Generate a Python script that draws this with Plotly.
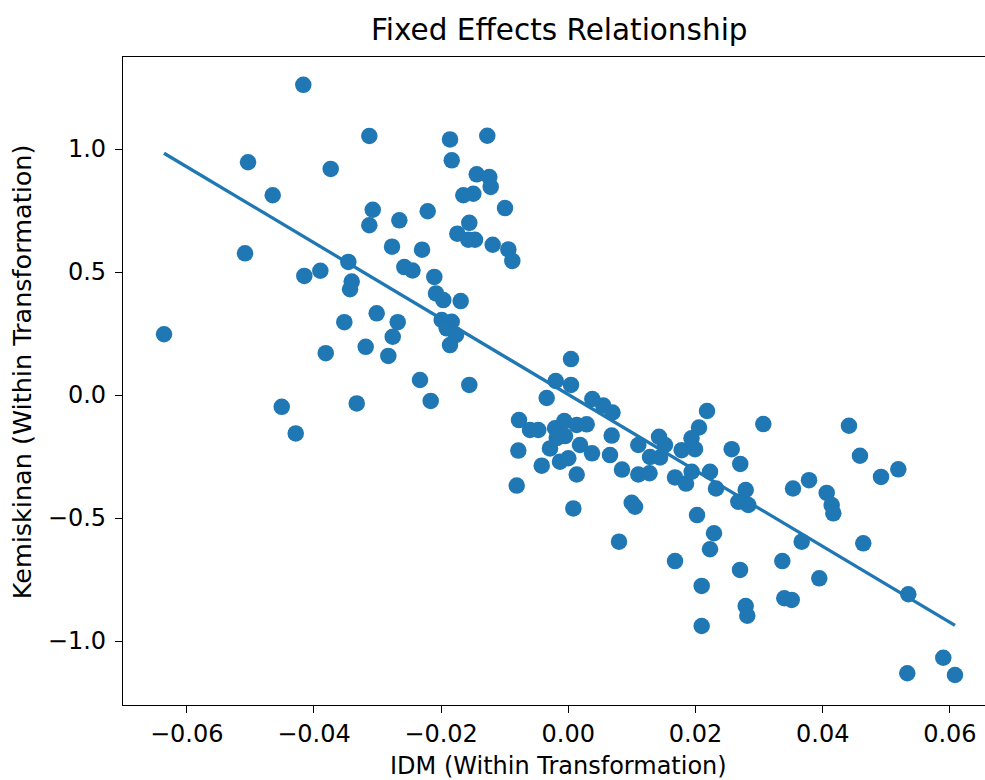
import numpy as np
import plotly.graph_objects as go

# IDM (within transformation) values
idm = [
    -0.04167, -0.03129, -0.05036, -0.03736, -0.04648, -0.03075, -0.03129, -0.02657,
    -0.02772, -0.05083, -0.03459, -0.04151, -0.03899, -0.03406, -0.03432, -0.02579,
    -0.02450, -0.02300, -0.01860, -0.01274, -0.01833, -0.01440, -0.01242, -0.01220,
    -0.01651, -0.01494, -0.02211, -0.00995, -0.01557, -0.01745, -0.01572, -0.01467,
    -0.01189, -0.00943, -0.00880, -0.02107, -0.06357, -0.03013, -0.03522, -0.02682,
    -0.02761, -0.03186, -0.02830, -0.03814, -0.02332, -0.04506, -0.03327, -0.04286,
    -0.02080, -0.01965, -0.01692, -0.01991, -0.01833, -0.01912, -0.01766, -0.01860,
    -0.01557, -0.02164,
    0.00042, -0.00198, 0.00042, -0.00340, 0.00377, 0.00550, 0.00695, -0.00775,
    -0.00602, -0.00472, -0.00209, -0.00063, 0.00132, 0.00289, -0.00182, -0.00052,
    0.00184, 0.00373, -0.00288, -0.00131, 0.00000, -0.00418, 0.00132, -0.00786,
    0.00682, 0.00656, 0.00844, 0.01101, 0.01426, 0.01520, 0.01285, 0.01442,
    0.01101, 0.01277, 0.01678, 0.01851, 0.01783, 0.01937, 0.02055, 0.02181,
    0.01992, 0.01940, 0.02228, 0.02322, -0.00811,
    0.02569, 0.02704, 0.03066, 0.04413, 0.04586, 0.04917, 0.05189, 0.02789,
    0.03533, 0.03785, 0.04063, 0.02673, 0.02830, 0.04141, 0.04167, 0.02024,
    0.02291, 0.02228, 0.03670, 0.04638, 0.03365, 0.02700, 0.03946, 0.02097,
    0.03396, 0.03513, 0.02789, 0.02814, 0.02097, 0.05346, 0.05896, 0.05330,
    0.06080, 0.00079, 0.00997, 0.01049, 0.00797, 0.01678,
]

# Kemiskinan (within transformation) values
kemiskinan = [
    1.261, 1.053, 0.946, 0.919, 0.812, 0.753, 0.690, 0.710,
    0.603, 0.576, 0.541, 0.484, 0.505, 0.461, 0.430, 0.520,
    0.506, 0.591, 1.039, 1.054, 0.954, 0.897, 0.886, 0.846,
    0.812, 0.818, 0.747, 0.760, 0.700, 0.656, 0.631, 0.631,
    0.611, 0.592, 0.545, 0.480, 0.247, 0.332, 0.296, 0.296,
    0.237, 0.196, 0.159, 0.170, 0.061, -0.048, -0.034, -0.156,
    0.413, 0.386, 0.382, 0.305, 0.298, 0.271, 0.244, 0.203,
    0.041, -0.024,
    0.146, 0.057, 0.041, -0.012, -0.016, -0.043, -0.071, -0.102,
    -0.142, -0.142, -0.135, -0.106, -0.122, -0.119, -0.175, -0.167,
    -0.203, -0.237, -0.217, -0.271, -0.257, -0.287, -0.323, -0.226,
    -0.165, -0.244, -0.303, -0.203, -0.170, -0.203, -0.252, -0.254,
    -0.323, -0.318, -0.335, -0.360, -0.224, -0.176, -0.132, -0.065,
    -0.220, -0.312, -0.312, -0.380, -0.368,
    -0.220, -0.280, -0.118, -0.125, -0.247, -0.333, -0.302, -0.386,
    -0.380, -0.346, -0.398, -0.434, -0.447, -0.447, -0.481, -0.488,
    -0.562, -0.627, -0.596, -0.603, -0.675, -0.711, -0.745, -0.776,
    -0.826, -0.833, -0.858, -0.897, -0.939, -0.810, -1.068, -1.131,
    -1.138, -0.461, -0.438, -0.454, -0.596, -0.675,
]

x_tick_values = [-0.06, -0.04, -0.02, 0.0, 0.02, 0.04, 0.06]
x_tick_labels = ["\u22120.06", "\u22120.04", "\u22120.02", "0.00", "0.02", "0.04", "0.06"]
y_tick_values = [-1.0, -0.5, 0.0, 0.5, 1.0]
y_tick_labels = ["\u22121.0", "\u22120.5", "0.0", "0.5", "1.0"]

title_text = "Fixed Effects Relationship"
x_label = "IDM (Within Transformation)"
y_label = "Kemiskinan (Within Transformation)"

# OLS fit line over the data range
slope, intercept = np.polyfit(idm, kemiskinan, 1)
line_x = np.array([min(idm), max(idm)])
line_y = intercept + slope * line_x

blue = "#1f77b4"
font_family = "DejaVu Sans"

fig = go.Figure()
fig.add_trace(go.Scatter(
    x=idm, y=kemiskinan, mode="markers",
    marker=dict(size=16.5, color=blue, line=dict(width=0)),
    hoverinfo="skip",
))
fig.add_trace(go.Scatter(
    x=line_x, y=line_y, mode="lines",
    line=dict(color=blue, width=3.3),
    hoverinfo="skip",
))

axis_common = dict(
    showgrid=False, zeroline=False, showline=True, linecolor="black", linewidth=1.3,
    ticks="outside", ticklen=7, tickwidth=1.3, tickcolor="black",
    tickfont=dict(family=font_family, size=24, color="black"),
)

fig.update_layout(
    width=985, height=780,
    margin=dict(l=123, r=0, t=57, b=75),
    paper_bgcolor="white", plot_bgcolor="white",
    showlegend=False,
    xaxis=dict(range=[-0.07002, 0.06552], tickvals=x_tick_values, ticktext=x_tick_labels,
               mirror=True, **axis_common),
    yaxis=dict(range=[-1.260, 1.374], tickvals=y_tick_values, ticktext=y_tick_labels,
               mirror=False, ticklabelstandoff=4, **axis_common),
    annotations=[
        dict(text=title_text, xref="paper", yref="paper", x=0.5064, y=1.0417,
             xanchor="center", yanchor="middle", showarrow=False,
             font=dict(family=font_family, size=29.5, color="black")),
        dict(text=x_label, xref="paper", yref="paper", x=0.5052, y=-0.0935,
             xanchor="center", yanchor="middle", showarrow=False,
             font=dict(family=font_family, size=24, color="black")),
        dict(text=y_label, xref="paper", yref="paper", x=-0.1172, y=0.515,
             xanchor="center", yanchor="middle", showarrow=False, textangle=-90,
             font=dict(family=font_family, size=25.5, color="black")),
    ],
)

fig.write_html("out.html", config={"displayModeBar": False},
               post_script="document.body.style.margin='0';")
